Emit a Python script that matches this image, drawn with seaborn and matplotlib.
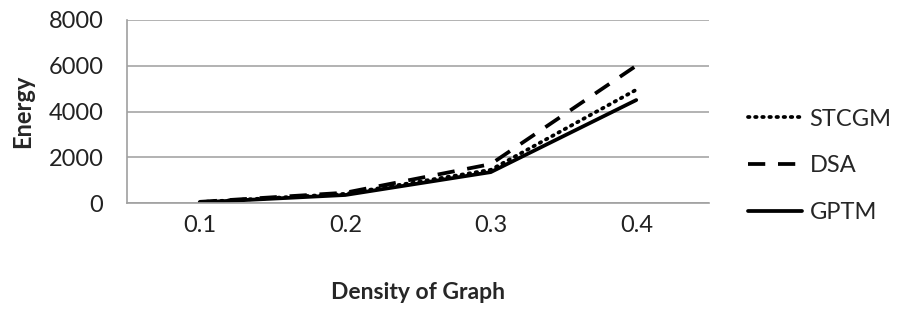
import matplotlib
matplotlib.use("Agg")
import pandas as pd
import seaborn as sns
import matplotlib.pyplot as plt
from matplotlib.ticker import FixedLocator

density = [0.1, 0.2, 0.3, 0.4]
stcgm = [40, 400, 1450, 4950]
dsa = [50, 450, 1700, 6000]
gptm = [30, 350, 1350, 4500]
y_ticks = [0, 2000, 4000, 6000, 8000]

df = pd.DataFrame({
    "Density": density * 3,
    "Energy": stcgm + dsa + gptm,
    "Method": ["STCGM"] * 4 + ["DSA"] * 4 + ["GPTM"] * 4,
})

sns.set_style("white")
plt.rcParams["font.family"] = ["Lato", "DejaVu Sans"]

fig = plt.figure(figsize=(9.05, 3.1), dpi=100)
ax = fig.add_axes([127 / 905, 1 - 203 / 310, (709 - 127) / 905, 183 / 310])

styles = {"STCGM": (0, (0.4, 1.5)), "DSA": (0, (4.6, 3.4)), "GPTM": "-"}
for name in ["STCGM", "DSA", "GPTM"]:
    sub = df[df["Method"] == name]
    sns.lineplot(data=sub, x="Density", y="Energy", ax=ax, color="black",
                 linewidth=2.7, linestyle=styles[name], label=name,
                 dash_capstyle="round" if name == "STCGM" else "butt")

ax.set_xlim(0.05, 0.45)
ax.set_ylim(0, 8000)
ax.set_yticks(y_ticks)
ax.set_xticks(density)
ax.set_xticklabels([str(d) for d in density])
ax.xaxis.set_minor_locator(FixedLocator([0.05, 0.15, 0.25, 0.35, 0.45]))
ax.tick_params(axis="x", which="major", length=0, pad=9, labelsize=17, colors="#222222")
ax.tick_params(axis="x", which="minor", length=6, width=1, color="#a0a0a0", direction="out")
ax.tick_params(axis="y", which="major", length=6, width=1, color="#a0a0a0", direction="out",
               pad=11, labelsize=17, labelcolor="#222222")
ax.yaxis.grid(True, color="#a6a6a6", linewidth=1.2)
ax.xaxis.grid(False)
for s in ["top", "right"]:
    ax.spines[s].set_visible(False)
for s in ["left", "bottom"]:
    ax.spines[s].set_color("#a0a0a0")
    ax.spines[s].set_linewidth(1.2)

ax.set_xlabel("Density of Graph", fontsize=16.5, fontweight="bold")
ax.set_ylabel("Energy", fontsize=17, fontweight="bold")
ax.xaxis.set_label_coords(0.5, -0.43)
ax.yaxis.set_label_coords(-0.16, 0.5)

ax.legend(loc="center left", bbox_to_anchor=(748 / 905, 1 - 166 / 310),
          bbox_transform=fig.transFigure, frameon=False, fontsize=17,
          handlelength=2.3, handletextpad=0.3, labelspacing=1.1,
          borderpad=0, borderaxespad=0)

fig.savefig("out.png", dpi=100)
